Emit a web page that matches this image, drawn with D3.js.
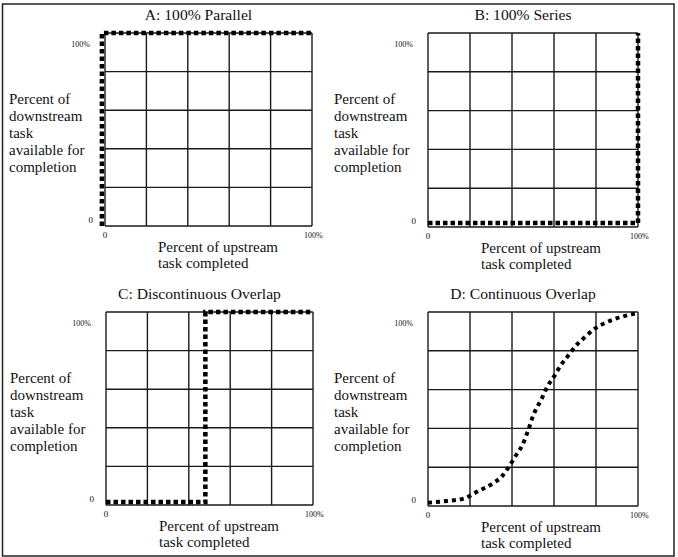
<!DOCTYPE html>
<html>
<head>
<meta charset="utf-8">
<script src="https://cdn.jsdelivr.net/npm/d3@7/dist/d3.min.js"></script>
<style>
body { margin: 0; background: #fff; }
text { font-family: "Liberation Serif", "Times New Roman", serif; fill: #111; }
</style>
</head>
<body>
<div id="chart"></div>
<script>
var width = 678, height = 557;

// panel titles
var titles = ["A: 100% Parallel", "B: 100% Series", "C: Discontinuous Overlap", "D: Continuous Overlap"];
var gridTicks = [0, 20, 40, 60, 80, 100];
var yLabelLines = ["Percent of", "downstream", "task", "available for", "completion"];
var xLabelLines = ["Percent of upstream", "task completed"];

// percent of upstream completed (x) vs percent of downstream available (y)
var parallelX = [-1.5, -1.5, 100];
var parallelY = [0, 100, 100];
var seriesX = [0, 100, 100];
var seriesY = [2, 2, 100];
var discX = [0, 48, 48, 100];
var discY = [1.5, 1.5, 100, 100];
var contX = [0, 9, 17, 24, 31, 35, 38, 42, 45, 48, 50, 54, 57, 60, 63, 67, 70, 75, 79, 84, 90, 97, 100];
var contY = [1.7, 2.6, 3.8, 7.7, 11.7, 15.1, 19.4, 26.3, 31.5, 40, 46.4, 55, 61.9, 66.7, 72.2, 77.8, 82.1, 87.3, 91.1, 94.2, 96.8, 98.8, 99.5];

var seriesList = [
  {x: parallelX, y: parallelY, curve: d3.curveLinear},
  {x: seriesX, y: seriesY, curve: d3.curveLinear},
  {x: discX, y: discY, curve: d3.curveLinear},
  {x: contX, y: contY, curve: d3.curveMonotoneX}
];

var panelBoxes = [
  {left: 105, top: 33, w: 207, h: 193, ylab: 9},
  {left: 428, top: 33, w: 210, h: 194, ylab: 334},
  {left: 106, top: 312, w: 207, h: 193, ylab: 10},
  {left: 428, top: 312, w: 210, h: 194, ylab: 334}
];

var svg = d3.select("#chart")
  .append("svg")
  .attr("width", width)
  .attr("height", height);

svg.append("rect")
  .attr("x", 2.5).attr("y", 4)
  .attr("width", 671.5).attr("height", 552)
  .style("fill", "none")
  .style("stroke", "#222")
  .style("stroke-width", 1.5);

for (var i = 0; i < 4; i++) {
  var b = panelBoxes[i];
  var x = d3.scaleLinear().domain([0, 100]).range([b.left, b.left + b.w]);
  var y = d3.scaleLinear().domain([0, 100]).range([b.top + b.h, b.top]);
  var g = svg.append("g");

  // grid
  g.selectAll(".vl").data(gridTicks).enter().append("line")
    .attr("x1", function(d) { return x(d); })
    .attr("x2", function(d) { return x(d); })
    .attr("y1", y(0)).attr("y2", y(100))
    .style("stroke", "#1a1a1a").style("stroke-width", 1.4);
  g.selectAll(".hl").data(gridTicks).enter().append("line")
    .attr("y1", function(d) { return y(d); })
    .attr("y2", function(d) { return y(d); })
    .attr("x1", x(0)).attr("x2", x(100))
    .style("stroke", "#1a1a1a").style("stroke-width", 1.4);

  // title
  g.append("text")
    .attr("x", x(50) - 10).attr("y", b.top - 13)
    .attr("text-anchor", "middle")
    .style("font-size", "15.6px")
    .text(titles[i]);

  // tick labels
  g.append("text").attr("x", x(0) - 15).attr("y", y(100) + 14)
    .attr("text-anchor", "end").style("font-size", "8px").text("100%");
  g.append("text").attr("x", x(0) - 12).attr("y", y(0) - 3)
    .attr("text-anchor", "end").style("font-size", "9px").text("0");
  g.append("text").attr("x", x(0)).attr("y", y(0) + 12)
    .attr("text-anchor", "middle").style("font-size", "9px").text("0");
  g.append("text").attr("x", x(100) - 8).attr("y", y(0) + 12)
    .attr("text-anchor", "start").style("font-size", "8px").text("100%");

  // axis titles
  g.selectAll(".yl").data(yLabelLines).enter().append("text")
    .attr("x", b.ylab)
    .attr("y", function(d, k) { return b.top + 71 + k * 17; })
    .style("font-size", "15px")
    .text(function(d) { return d; });
  g.selectAll(".xl").data(xLabelLines).enter().append("text")
    .attr("x", x(0) + 53)
    .attr("y", function(d, k) { return y(0) + 26 + k * 16; })
    .style("font-size", "15px")
    .text(function(d) { return d; });

  // dotted relationship line
  var s = seriesList[i];
  var pts = s.x.map(function(v, k) { return [v, s.y[k]]; });
  var line = d3.line()
    .x(function(d) { return x(d[0]); })
    .y(function(d) { return y(d[1]); })
    .curve(s.curve);
  g.append("path")
    .attr("d", line(pts))
    .style("fill", "none")
    .style("stroke", "#000")
    .style("stroke-width", i == 3 ? 4 : 4.5)
    .style("stroke-dasharray", i == 3 ? "4,4" : "4.5,3");
}
</script>
</body>
</html>
